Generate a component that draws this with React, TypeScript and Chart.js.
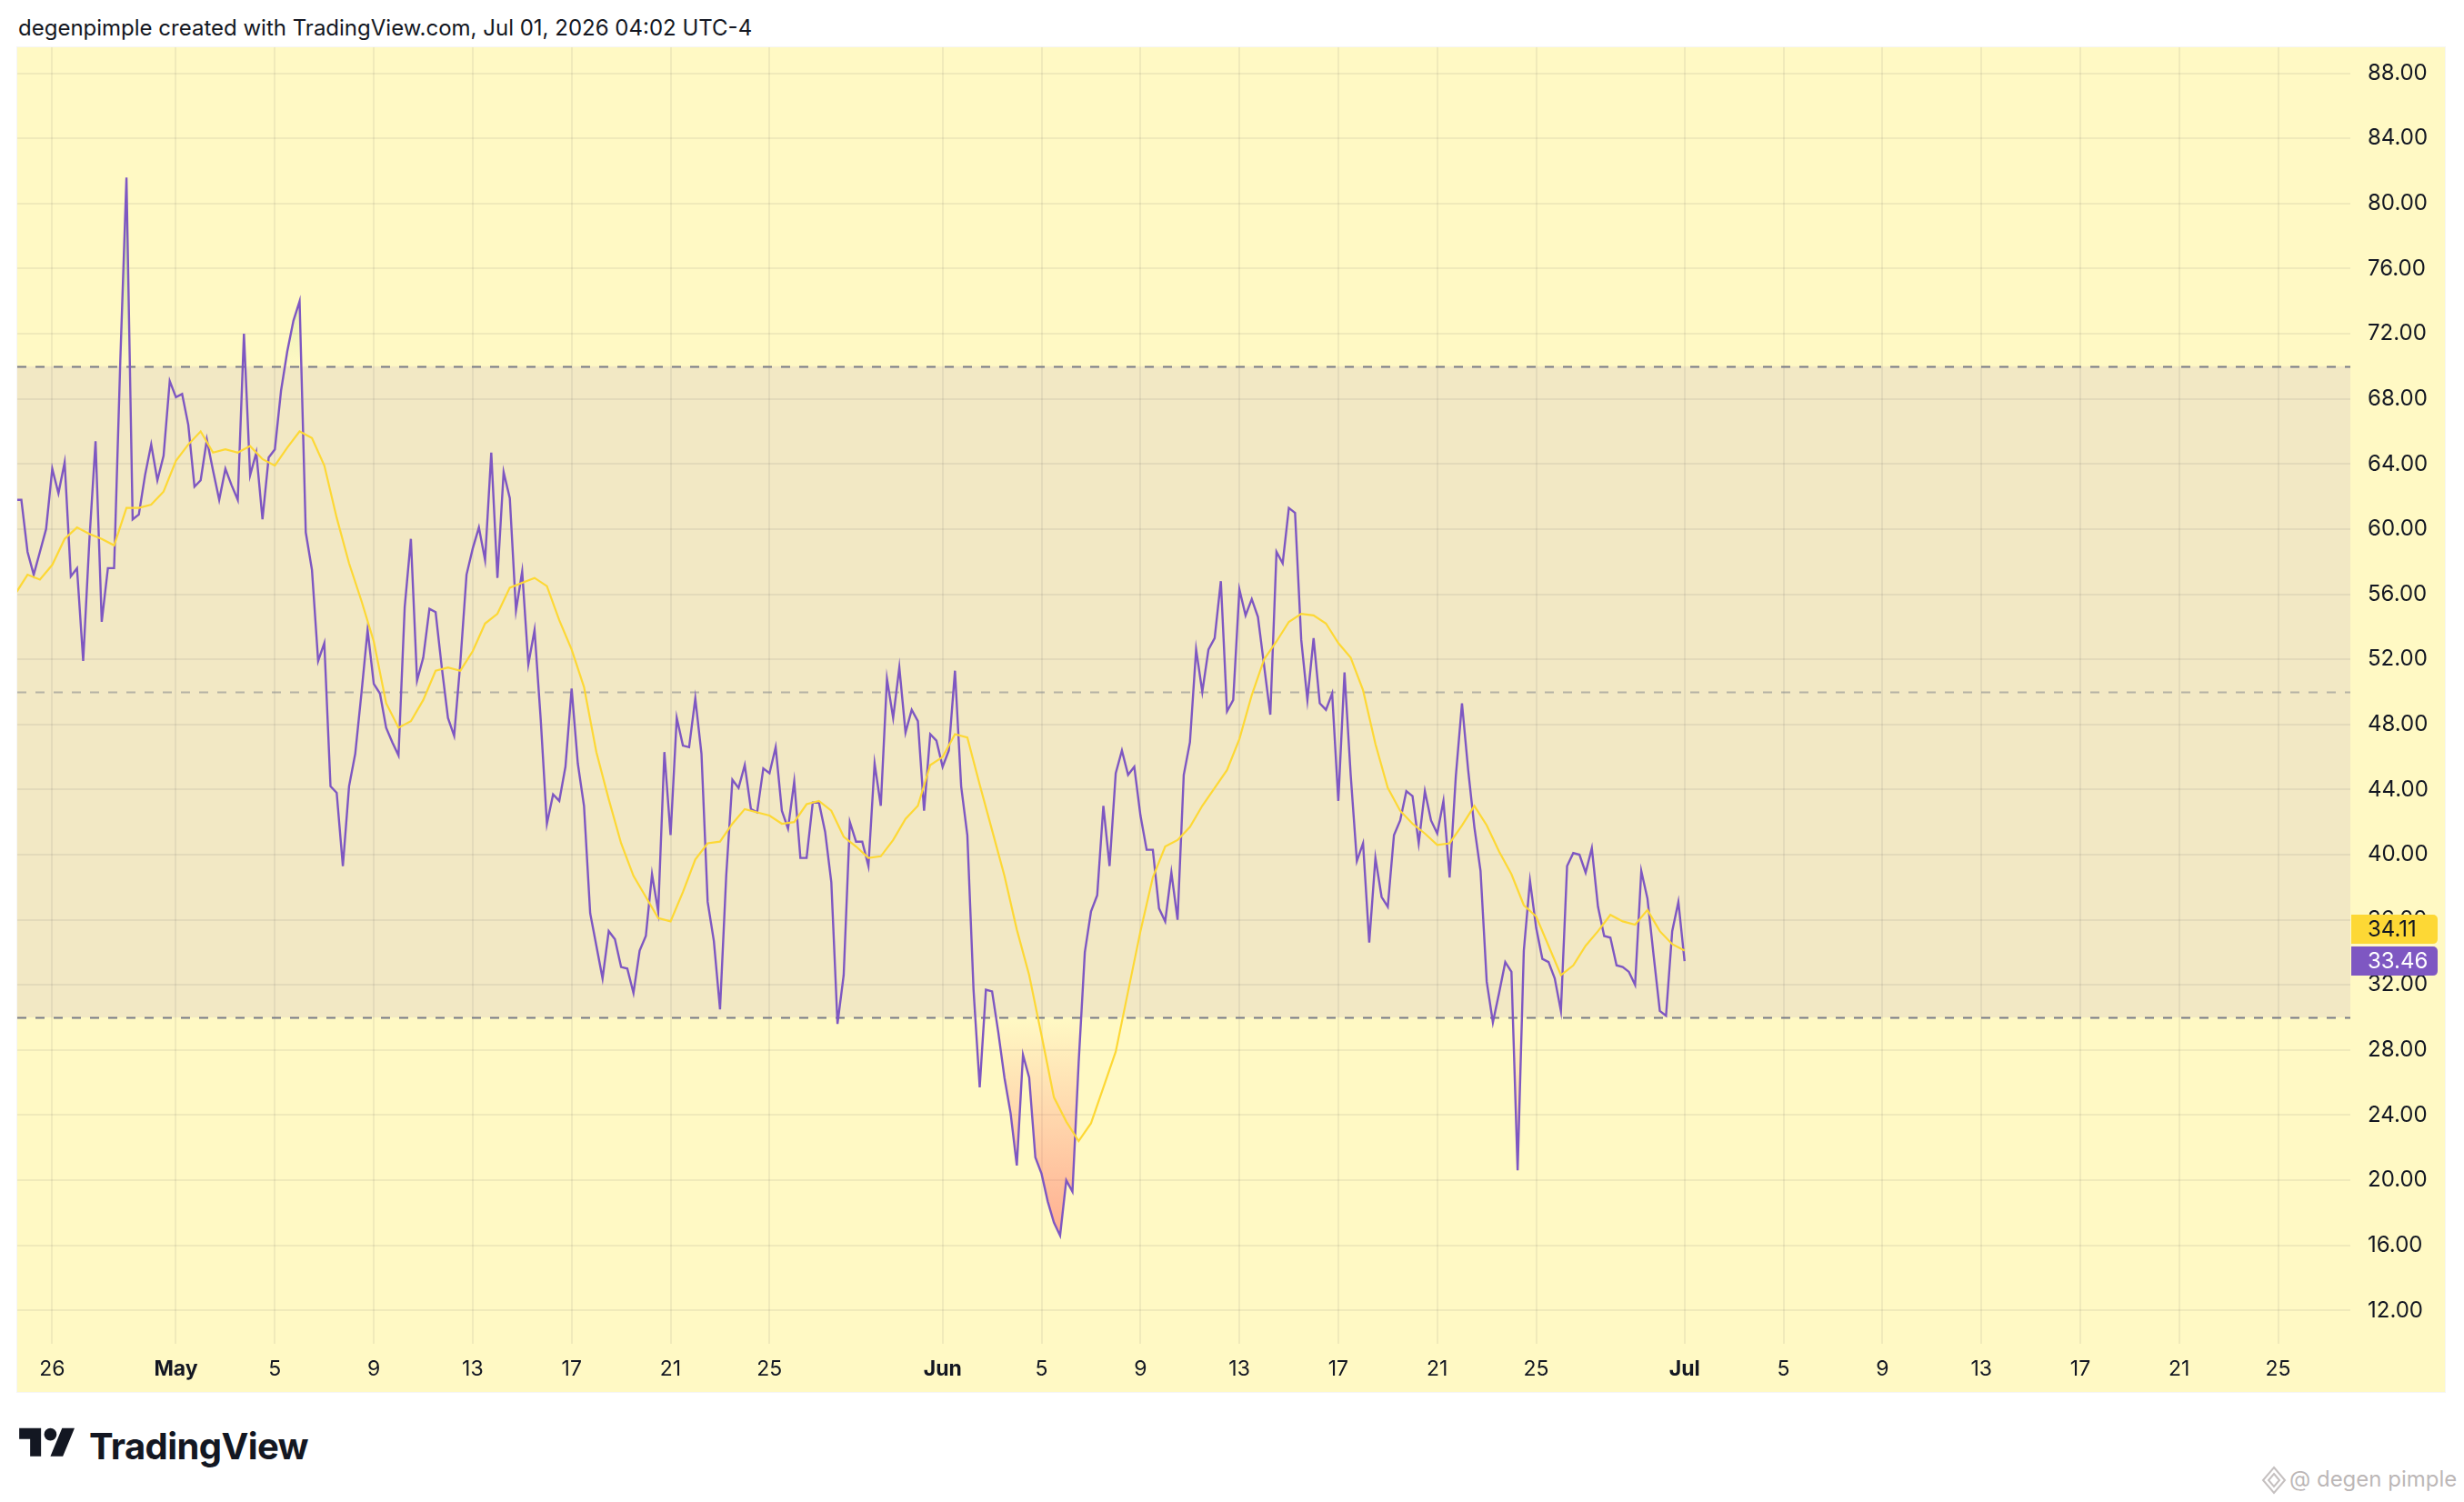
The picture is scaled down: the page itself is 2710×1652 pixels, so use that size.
import { useEffect, useRef } from "react";
import { Chart, registerables } from "chart.js";

Chart.register(...registerables);

// RSI(14) on 6h bars, first bar = Apr 24 12:00, x in days from Apr 26
const RSI_START = -1.5;
const RSI_STEP = 0.25;
const RSI_VALUES = [
  61.8, 61.8, 58.6, 57.2, 58.6, 60.0, 63.7, 62.2, 64.1, 57.1,
  57.6, 51.9, 59.3, 65.4, 54.3, 57.6, 57.6, 70.3, 81.6, 60.6,
  60.9, 63.3, 65.2, 63.0, 64.5, 69.1, 68.1, 68.3, 66.4, 62.6,
  63.0, 65.5, 63.6, 61.8, 63.7, 62.7, 61.8, 72.0, 63.3, 64.7,
  60.6, 64.4, 64.9, 68.5, 70.9, 72.8, 74.0, 59.8, 57.5, 51.9,
  53.0, 44.2, 43.8, 39.3, 44.2, 46.2, 49.9, 53.8, 50.5, 49.9,
  47.8, 46.9, 46.1, 55.2, 59.4, 50.7, 52.1, 55.1, 54.9, 51.5,
  48.4, 47.3, 51.8, 57.2, 58.8, 60.1, 58.1, 64.7, 57.0, 63.5,
  61.9, 55.0, 57.4, 51.7, 53.8, 48.3, 41.9, 43.7, 43.3, 45.4,
  50.2, 45.6, 43.0, 36.4, 34.4, 32.4, 35.3, 34.8, 33.1, 33.0,
  31.5, 34.1, 35.0, 38.8, 36.5, 46.3, 41.2, 48.4, 46.7, 46.6,
  49.6, 46.2, 37.1, 34.7, 30.5, 38.7, 44.6, 44.1, 45.5, 42.8,
  42.6, 45.3, 45.0, 46.6, 42.7, 41.6, 44.5, 39.8, 39.8, 43.2,
  43.2, 41.4, 38.3, 29.6, 32.6, 42.0, 40.8, 40.8, 39.3, 45.6,
  43.0, 50.8, 48.4, 51.5, 47.5, 48.9, 48.2, 42.7, 47.4, 47.0,
  45.4, 46.4, 51.3, 44.2, 41.2, 31.7, 25.7, 31.7, 31.6, 29.1,
  26.3, 24.1, 20.9, 27.7, 26.3, 21.4, 20.4, 18.7, 17.4, 16.6,
  20.0, 19.3, 27.2, 34.0, 36.5, 37.5, 43.0, 39.3, 45.0, 46.4,
  44.9, 45.4, 42.4, 40.3, 40.3, 36.7, 35.9, 38.9, 36.0, 44.9,
  46.9, 52.6, 50.0, 52.6, 53.3, 56.8, 48.8, 49.5, 56.3, 54.7,
  55.7, 54.6, 51.6, 48.6, 58.6, 57.9, 61.3, 61.0, 53.2, 49.5,
  53.3, 49.3, 48.9, 49.9, 43.3, 51.2, 44.9, 39.6, 40.7, 34.6,
  39.8, 37.4, 36.8, 41.2, 42.1, 43.9, 43.6, 40.7, 43.9, 42.1,
  41.3, 43.3, 38.6, 44.8, 49.3, 45.2, 41.7, 39.0, 32.2, 29.7,
  31.5, 33.4, 32.8, 20.6, 34.1, 38.4, 35.5, 33.6, 33.4, 32.4,
  30.4, 39.3, 40.1, 40.0, 38.9, 40.4, 36.8, 35.0, 34.9, 33.2,
  33.1, 32.8, 32.0, 39.0, 37.3, 33.8, 30.4, 30.1, 35.3, 37.1,
  33.46,
];

// RSI-based MA, read every 12h
const MA_STEP = 0.5;
const MA_VALUES = [
  56.0, 57.2, 56.9, 57.8, 59.4, 60.1, 59.7, 59.4, 59.0, 61.3,
  61.3, 61.5, 62.3, 64.2, 65.2, 66.0, 64.7, 64.9, 64.7, 65.1,
  64.3, 63.9, 65.0, 66.0, 65.6, 63.9, 60.7, 57.9, 55.6, 53.1,
  49.3, 47.8, 48.2, 49.5, 51.3, 51.5, 51.3, 52.5, 54.2, 54.8,
  56.4, 56.7, 57.0, 56.5, 54.4, 52.6, 50.3, 46.3, 43.4, 40.7,
  38.7, 37.4, 36.1, 35.9, 37.7, 39.7, 40.7, 40.8, 41.9, 42.8,
  42.6, 42.4, 41.9, 42.0, 43.1, 43.3, 42.7, 41.1, 40.5, 39.8,
  39.9, 40.9, 42.2, 43.0, 45.5, 46.0, 47.4, 47.2, 44.3, 41.5,
  38.7, 35.4, 32.6, 28.9, 25.1, 23.6, 22.4, 23.5, 25.7, 27.9,
  31.6, 35.3, 38.6, 40.5, 40.9, 41.7, 43.0, 44.1, 45.2, 47.1,
  49.8, 52.0, 53.1, 54.3, 54.8, 54.7, 54.2, 53.0, 52.1, 50.1,
  46.8, 44.1, 42.7, 41.9, 41.3, 40.6, 40.7, 41.8, 43.0, 41.8,
  40.2, 38.8, 36.9, 36.2, 34.4, 32.6, 33.2, 34.4, 35.3, 36.3,
  35.9, 35.7, 36.6, 35.3, 34.5, 34.11,
];

const TICK_DAYS = [0, 5, 9, 13, 17, 21, 25, 29, 36, 40, 44, 48, 52, 56, 60, 66, 70, 74, 78, 82, 86, 90];
const TICK_LABELS = ["26", "May", "5", "9", "13", "17", "21", "25", "Jun", "5", "9", "13", "17", "21", "25", "Jul", "5", "9", "13", "17", "21", "25"];
const MONTHS = ["May", "Jun", "Jul"];
const PRICE_TICKS = [12, 16, 20, 24, 28, 32, 36, 40, 44, 48, 52, 56, 60, 64, 68, 72, 76, 80, 84, 88];
const UPPER = 70;
const MIDDLE = 50;
const LOWER = 30;

const FONT = "Inter, 'Noto Sans', sans-serif";
const INK = "#131722";
const PANEL_BG = "#FFF9C4";
const RSI_COLOR = "#7E57C2";
const MA_COLOR = "#FDD835";
const GRID = "rgba(42, 46, 57, 0.07)";

const zonesPlugin = {
  id: "rsiZones",
  beforeDraw(chart: any) {
    const { ctx, chartArea: a, scales } = chart;
    const y = scales.y;
    ctx.save();
    ctx.fillStyle = PANEL_BG;
    ctx.fillRect(0, 0, chart.width, chart.height);
    const top = y.getPixelForValue(UPPER);
    const bottom = y.getPixelForValue(LOWER);
    ctx.fillStyle = "rgba(126, 87, 194, 0.1)";
    ctx.fillRect(a.left, top, a.width, bottom - top);
    ctx.restore();
  },
  beforeDatasetsDraw(chart: any) {
    const { ctx, chartArea: a, scales } = chart;
    const y = scales.y;
    const pts = chart.getDatasetMeta(0).data;
    const y100 = y.getPixelForValue(100);
    const yUp = y.getPixelForValue(UPPER);
    const yMid = y.getPixelForValue(MIDDLE);
    const yLow = y.getPixelForValue(LOWER);
    const y0 = y.getPixelForValue(0);

    const zone = (clipTop: number, clipBottom: number, base: number, fill: any) => {
      ctx.save();
      ctx.beginPath();
      ctx.rect(a.left, clipTop, a.width, clipBottom - clipTop);
      ctx.clip();
      ctx.beginPath();
      ctx.moveTo(pts[0].x, base);
      pts.forEach((p: any) => ctx.lineTo(p.x, p.y));
      ctx.lineTo(pts[pts.length - 1].x, base);
      ctx.closePath();
      ctx.fillStyle = fill;
      ctx.fill();
      ctx.restore();
    };

    const green = ctx.createLinearGradient(0, y100, 0, yUp);
    green.addColorStop(0, "rgba(76, 175, 80, 1)");
    green.addColorStop(1, "rgba(76, 175, 80, 0)");
    zone(a.top, yUp, yUp, green);

    const red = ctx.createLinearGradient(0, yLow, 0, y0);
    red.addColorStop(0, "rgba(255, 82, 82, 0)");
    red.addColorStop(1, "rgba(255, 82, 82, 1)");
    zone(yLow, a.bottom, yLow, red);

    const hline = (py: number, color: string) => {
      ctx.save();
      ctx.strokeStyle = color;
      ctx.lineWidth = 2;
      ctx.setLineDash([10, 10]);
      ctx.beginPath();
      ctx.moveTo(a.left, Math.round(py) + 0.5);
      ctx.lineTo(a.right, Math.round(py) + 0.5);
      ctx.stroke();
      ctx.restore();
    };
    hline(yUp, "#787B86");
    hline(yMid, "rgba(120, 123, 134, 0.5)");
    hline(yLow, "#787B86");
  },
  afterDraw(chart: any) {
    const { ctx, chartArea: a, scales } = chart;
    const y = scales.y;
    const h = 32;
    const left = a.right + 1;
    const w = 95;
    const rsiLast = RSI_VALUES[RSI_VALUES.length - 1];
    const maLast = MA_VALUES[MA_VALUES.length - 1];
    const purpleTop = y.getPixelForValue(rsiLast) - h / 2;
    const yellowTop = purpleTop - h - 3;
    const tag = (top: number, bg: string, fg: string, text: string) => {
      ctx.save();
      ctx.fillStyle = bg;
      ctx.beginPath();
      ctx.roundRect(left, top, w, h, [0, 5, 5, 0]);
      ctx.fill();
      ctx.fillStyle = fg;
      ctx.font = `24px ${FONT}`;
      ctx.textAlign = "left";
      ctx.textBaseline = "middle";
      ctx.fillText(text, a.right + 19, top + h / 2 + 1);
      ctx.restore();
    };
    tag(yellowTop, MA_COLOR, INK, maLast.toFixed(2));
    tag(purpleTop, RSI_COLOR, "#FFFFFF", rsiLast.toFixed(2));
  },
};

function RsiChart() {
  const canvasRef = useRef<HTMLCanvasElement | null>(null);
  const chartRef = useRef<Chart | null>(null);

  useEffect(() => {
    if (!canvasRef.current) return;

    const rsiPoints = RSI_VALUES.map((v, i) => ({ x: RSI_START + i * RSI_STEP, y: v }));
    const maPoints = MA_VALUES.map((v, i) => ({ x: RSI_START + i * MA_STEP, y: v }));

    if (chartRef.current) chartRef.current.destroy();

    chartRef.current = new Chart(canvasRef.current, {
      type: "line",
      data: {
        datasets: [
          {
            label: "RSI",
            data: rsiPoints,
            borderColor: RSI_COLOR,
            borderWidth: 2.4,
            pointRadius: 0,
            tension: 0,
            fill: false,
            order: 2,
          },
          {
            label: "RSI-based MA",
            data: maPoints,
            borderColor: MA_COLOR,
            borderWidth: 2.2,
            pointRadius: 0,
            tension: 0,
            fill: false,
            order: 1,
          },
        ],
      },
      options: {
        animation: false,
        responsive: true,
        maintainAspectRatio: false,
        devicePixelRatio: 1,
        layout: { padding: 0 },
        plugins: {
          legend: { display: false },
          tooltip: { enabled: false },
          title: { display: false },
        },
        scales: {
          x: {
            type: "linear",
            min: -1.415,
            max: 92.92,
            border: { display: false },
            grid: { color: GRID, lineWidth: 2, drawTicks: false },
            afterBuildTicks: (scale: any) => {
              scale.ticks = TICK_DAYS.map((v) => ({ value: v }));
            },
            afterFit: (scale: any) => {
              scale.height = 53;
              scale.paddingLeft = 0;
              scale.paddingRight = 0;
            },
            ticks: {
              autoSkip: false,
              maxRotation: 0,
              minRotation: 0,
              padding: 14,
              color: INK,
              font: (c: any) => ({
                family: FONT,
                size: 23,
                weight: MONTHS.includes(TICK_LABELS[c.index]) ? "bold" : "normal",
              }),
              callback: (_v: any, i: number) => TICK_LABELS[i],
            },
          },
          y: {
            type: "linear",
            position: "right",
            min: 9.95,
            max: 89.6,
            border: { display: false },
            grid: { color: GRID, lineWidth: 2, drawTicks: false },
            afterBuildTicks: (scale: any) => {
              scale.ticks = PRICE_TICKS.map((v) => ({ value: v }));
            },
            afterFit: (scale: any) => {
              scale.width = 104;
              scale.paddingTop = 0;
              scale.paddingBottom = 0;
            },
            ticks: {
              autoSkip: false,
              crossAlign: "near",
              padding: 19,
              color: INK,
              font: { family: FONT, size: 24 },
              callback: (v: any) => Number(v).toFixed(2),
            },
          },
        },
      },
      plugins: [zonesPlugin],
    } as any);

    return () => {
      if (chartRef.current) chartRef.current.destroy();
      chartRef.current = null;
    };
  }, []);

  return <canvas ref={canvasRef} />;
}

function TvLogo() {
  return (
    <svg width="62" height="48" viewBox="0 0 36 28" style={{ display: "block" }}>
      <path d="M14 22H7V11H0V4h14v18zM28 22h-8l7.5-18h8L28 22z" fill={INK} />
      <circle cx="20" cy="8" r="4" fill={INK} />
    </svg>
  );
}

export default function App() {
  return (
    <div
      style={{
        position: "absolute",
        left: 0,
        top: 0,
        width: 2710,
        height: 1652,
        background: "#FFFFFF",
        fontFamily: FONT,
        color: INK,
        overflow: "hidden",
      }}
    >
      <div style={{ position: "absolute", left: 20, top: 18, fontSize: 24, lineHeight: "26px", whiteSpace: "nowrap" }}>
        degenpimple created with TradingView.com, Jul 01, 2026 04:02 UTC-4
      </div>
      <div
        style={{
          position: "absolute",
          left: 19,
          top: 52,
          width: 2670,
          height: 1479,
          boxShadow: "0 0 0 1px rgba(0,0,0,0.04)",
        }}
      >
        <RsiChart />
      </div>
      <div style={{ position: "absolute", left: 21, top: 1564 }}>
        <TvLogo />
      </div>
      <div
        style={{
          position: "absolute",
          left: 98,
          top: 1571,
          fontSize: 40,
          lineHeight: "40px",
          fontWeight: 700,
          letterSpacing: -0.6,
          whiteSpace: "nowrap",
        }}
      >
        TradingView
      </div>
      <svg width="30" height="32" viewBox="0 0 30 32" style={{ position: "absolute", left: 2486, top: 1612 }}>
        <g fill="none" stroke="rgba(150,140,140,0.55)" strokeWidth="2">
          <path d="M15 2 L27 16 L15 30 L3 16 Z" />
          <path d="M15 9 L21 16 L15 23 L9 16 Z" />
        </g>
      </svg>
      <div
        style={{
          position: "absolute",
          left: 2518,
          top: 1614,
          fontSize: 24,
          lineHeight: "26px",
          color: "rgba(130,120,120,0.55)",
          whiteSpace: "nowrap",
        }}
      >
        @ degen pimple
      </div>
    </div>
  );
}
